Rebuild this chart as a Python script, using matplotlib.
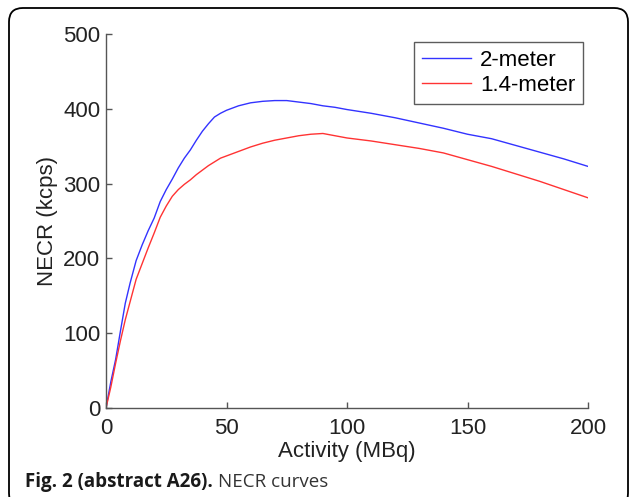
import matplotlib
matplotlib.use("Agg")
import matplotlib.pyplot as plt
from matplotlib.patches import FancyBboxPatch

# NECR vs activity for the two scanner lengths
activity = [0, 2, 4, 6, 8, 10, 12.5, 15, 17.5, 20, 22.5, 25, 27.5, 30, 32.5, 35,
            37.5, 40, 42.5, 45, 47.5, 50, 55, 60, 65, 70, 75, 80, 85, 90, 95,
            100, 110, 120, 130, 140, 150, 160, 170, 180, 190, 200]
necr_2m = [0, 35, 65, 103, 140, 167, 197, 218, 237, 254, 276, 292, 306, 321, 334, 345,
           358, 370, 380, 389, 394, 398, 404, 408, 410, 411, 411, 409, 407, 404, 402,
           399, 394, 388, 381, 374, 366, 360, 351, 342, 333, 323]
necr_14m = [0, 28, 60, 90, 118, 142, 172, 193, 214, 234, 255, 270, 283, 292, 299, 305,
            312, 318, 324, 329, 334, 337, 343, 349, 354, 358, 361, 364, 366, 367, 364,
            361, 357, 352, 347, 341, 332, 323, 313, 303, 292, 281]
labels = ["2-meter", "1.4-meter"]

W, H = 629, 497
fig = plt.figure(figsize=(W / 100, H / 100), dpi=100)
plt.rcParams['font.family'] = ['Liberation Sans', 'DejaVu Sans']

# rounded frame around the figure
frame = FancyBboxPatch((9 / W, -10 / H), (628 - 9) / W, (489 + 10) / H,
                       boxstyle="round,pad=0,rounding_size=0.022",
                       transform=fig.transFigure, fill=False,
                       edgecolor="black", linewidth=1.3, mutation_aspect=W / H)
fig.patches.append(frame)

ax = fig.add_axes([106 / W, (H - 408) / H, (588 - 106) / W, (408 - 34) / H])
ax.plot(activity, necr_2m, color="#3333ff", lw=1.0, label=labels[0])
ax.plot(activity, necr_14m, color="#ff3333", lw=1.0, label=labels[1])

ax.set_xlim(0, 200)
ax.set_ylim(0, 500)
ax.set_xticks([0, 50, 100, 150, 200])
ax.set_yticks([0, 100, 200, 300, 400, 500])
for s in ["top", "right"]:
    ax.spines[s].set_visible(False)
for s in ["left", "bottom"]:
    ax.spines[s].set_color("#555555")
    ax.spines[s].set_linewidth(1.0)
ax.tick_params(direction="in", length=4, width=1.0, color="#555555",
               labelsize=16, labelcolor="#222222")
ax.tick_params(axis="x", pad=7)
ax.tick_params(axis="y", pad=4)
ax.set_xlabel("Activity (MBq)", fontsize=16, color="#222222", labelpad=2)
ax.set_ylabel("NECR (kcps)", fontsize=16, color="#222222", labelpad=4)

leg = ax.legend(loc="upper right", bbox_to_anchor=(583 / W, (H - 42) / H),
                bbox_transform=fig.transFigure, fontsize=16, frameon=True,
                fancybox=False, edgecolor="#333333", handlelength=2.2,
                handletextpad=0.4, borderpad=0.35, labelspacing=0.2,
                borderaxespad=0)
leg.get_frame().set_linewidth(1.0)

# caption below the plot
r = fig.canvas.get_renderer()
t1 = fig.text(25 / W, (H - 487) / H, "Fig. 2 (abstract A26).",
              fontsize=13.5, fontweight="bold", family=["Open Sans", "DejaVu Sans"],
              color="#1a1a1a")
bb = t1.get_window_extent(r)
fig.text((bb.x1 + 5) / W, (H - 487) / H, "NECR curves", fontsize=13.5,
         family=["Open Sans", "DejaVu Sans"], color="#333333")

fig.savefig("out.png", dpi=100)
